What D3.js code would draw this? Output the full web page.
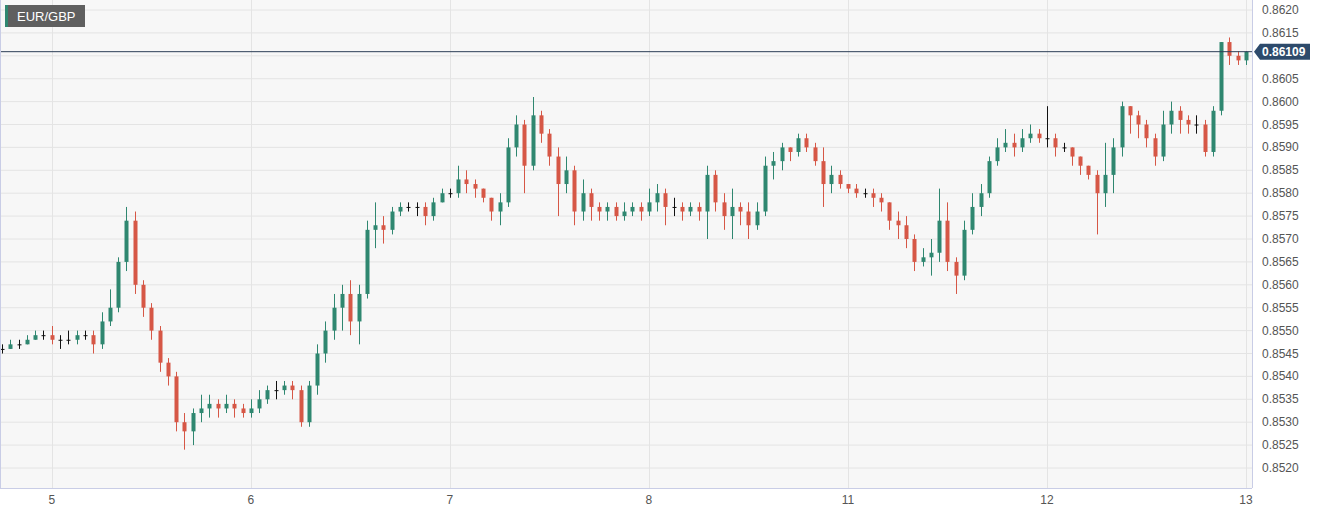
<!DOCTYPE html>
<html><head><meta charset="utf-8">
<script src="https://cdn.jsdelivr.net/npm/d3@7.9.0/dist/d3.min.js"></script>
<style>body{margin:0;background:#fff;font-family:"Liberation Sans",Arial,sans-serif}</style>
</head><body><svg width="1332" height="514"></svg>
<script>
const symbol = 'EUR/GBP';
const lastPrice = 0.86109;
const dayLabels = ['5','6','7','8','11','12','13'];
const dayIndex = [6,30,54,78,102,126,150];
const priceTicks = [0.8520,0.8525,0.8530,0.8535,0.8540,0.8545,0.8550,0.8555,0.8560,0.8565,0.8570,0.8575,0.8580,0.8585,0.8590,0.8595,0.8600,0.8605,0.8610,0.8615,0.8620];
const closes = [.8546,.8547,.8547,.8548,.8549,.8549,
.8548,.8548,.8548,.8549,.8549,.8547,.8552,.8555,.8565,.8574,
.8560,.8555,.8550,.8543,.8540,.8530,.8528,.8532,.8533,.8534,
.8533,.8534,.8533,.8532,.8533,.8535,.8537,.8537,.8538,.8537,
.8530,.8538,.8545,.8550,.8555,.8558,.8552,.8558,.8572,.8573,
.8572,.8576,.8577,.8577,.8577,.8575,.8578,.8580,.8580,.8583,
.8582,.8581,.8579,.8576,.8578,.8590,.8595,.8586,.8597,.8593,
.8588,.8582,.8585,.8576,.8580,.8577,.8576,.8577,.8575,.8576,
.8577,.8576,.8578,.8580,.8577,.8577,.8576,.8577,.8576,.8584,
.8578,.8575,.8577,.8576,.8573,.8576,.8586,.8587,.8590,.8589,
.8592,.8590,.8587,.8582,.8584,.8582,.8581,.8580,.8580,.8579,
.8578,.8574,.8573,.8570,.8565,.8566,.8567,.8574,.8565,.8562,
.8572,.8577,.8580,.8587,.8590,.8591,.8590,.8592,.8593,.8592,
.8592,.8590,.8590,.8588,.8586,.8584,.8580,.8584,.8590,.8599,
.8597,.8595,.8592,.8588,.8595,.8598,.8596,.8595,.8595,.8589,
.8598,.8613,.8610,.8609,.86109];
const highs = [.8547,.8548,.8548,.8549,.8550,.8550,
.8551,.8549,.8550,.8550,.8550,.8550,.8554,.8559,.8566,.8577,
.8576,.8561,.8556,.8551,.8544,.8541,.8532,.8533,.8536,.8536,
.8535,.8536,.8535,.8534,.8535,.8537,.8538,.8539,.8539,.8539,
.8538,.8539,.8547,.8552,.8558,.8560,.8561,.8560,.8574,.8578,
.8575,.8577,.8578,.8578,.8578,.8578,.8579,.8581,.8581,.8586,
.8585,.8583,.8581,.8579,.8580,.8592,.8597,.8596,.8601,.8598,
.8594,.8590,.8588,.8586,.8583,.8581,.8578,.8578,.8578,.8578,
.8578,.8578,.8581,.8582,.8581,.8579,.8578,.8578,.8578,.8586,
.8585,.8580,.8581,.8578,.8578,.8578,.8588,.8589,.8591,.8590,
.8593,.8593,.8591,.8590,.8586,.8585,.8582,.8582,.8581,.8581,
.8580,.8578,.8576,.8575,.8571,.8568,.8570,.8581,.8578,.8566,
.8574,.8580,.8582,.8588,.8592,.8594,.8593,.8594,.8595,.8594,
.8599,.8593,.8591,.8590,.8588,.8586,.8585,.8591,.8592,.8600,
.8599,.8598,.8596,.8593,.8598,.8600,.8599,.8597,.8597,.8596,
.8599,.8613,.8614,.8611,.8611];
const lows = [.8545,.8546,.8546,.8547,.8548,.8548,
.8547,.8546,.8547,.8547,.8548,.8545,.8546,.8551,.8554,.8563,
.8558,.8553,.8548,.8541,.8538,.8528,.8524,.8525,.8530,.8531,
.8531,.8532,.8531,.8531,.8531,.8532,.8534,.8535,.8536,.8535,
.8529,.8529,.8536,.8543,.8548,.8550,.8549,.8547,.8557,.8568,
.8569,.8571,.8575,.8576,.8575,.8573,.8574,.8578,.8579,.8579,
.8580,.8579,.8578,.8574,.8573,.8577,.8588,.8580,.8585,.8591,
.8586,.8575,.8580,.8573,.8574,.8574,.8574,.8574,.8574,.8574,
.8575,.8574,.8575,.8576,.8573,.8575,.8574,.8575,.8574,.8570,
.8576,.8572,.8570,.8573,.8570,.8572,.8575,.8583,.8585,.8587,
.8588,.8589,.8586,.8577,.8580,.8581,.8580,.8579,.8579,.8577,
.8576,.8572,.8570,.8568,.8563,.8564,.8562,.8565,.8563,.8558,
.8561,.8571,.8575,.8579,.8586,.8589,.8588,.8589,.8591,.8591,
.8590,.8588,.8589,.8586,.8584,.8583,.8571,.8577,.8580,.8588,
.8593,.8592,.8590,.8586,.8587,.8593,.8593,.8593,.8593,.8588,
.8588,.8597,.8608,.8608,.8608];

const svg = d3.select('svg');
const W = 1252, H = 488;
const x = d3.scaleLinear().domain([0,150]).range([2,1246]);
const y = d3.scaleLinear().domain([0.8520,0.8620]).range([468,10]);

svg.append('rect').attr('width',W).attr('height',H).attr('fill','#f7f7f7');
// grid
svg.append('g').selectAll('line').data(priceTicks).join('line')
  .attr('x1',0).attr('x2',W).attr('y1',d=>y(d)).attr('y2',d=>y(d))
  .attr('stroke','#e4e4e4').attr('stroke-width',1);
svg.append('g').selectAll('line').data(dayIndex).join('line')
  .attr('x1',d=>Math.round(x(d))+0.5).attr('x2',d=>Math.round(x(d))+0.5).attr('y1',0).attr('y2',H)
  .attr('stroke','#e4e4e4');

// candles
const candles = closes.map((c,i)=>({i, o: i===0 ? c : closes[i-1], c, h: highs[i], l: lows[i]}));
const g = svg.append('g');
const cw = 4;
candles.forEach(d=>{
  const col = d.c > d.o ? '#2f8770' : d.c < d.o ? '#d65746' : '#111';
  const cx = Math.round(x(d.i))+0.5;
  g.append('line').attr('x1',cx).attr('x2',cx).attr('y1',y(d.h)).attr('y2',y(d.l)).attr('stroke',col);
  const top = y(Math.max(d.o,d.c)), bot = y(Math.min(d.o,d.c));
  g.append('rect').attr('x',cx-cw/2).attr('y',top).attr('width',cw).attr('height',Math.max(1,bot-top)).attr('fill',col);
});

// last price line
svg.append('line').attr('x1',0).attr('x2',W).attr('y1',y(lastPrice)).attr('y2',y(lastPrice))
  .attr('stroke','#2c3e56').attr('stroke-width',1);

// frame
svg.append('line').attr('x1',0.5).attr('x2',0.5).attr('y1',0).attr('y2',H).attr('stroke','#c9cde6');
svg.append('line').attr('x1',W+0.5).attr('x2',W+0.5).attr('y1',0).attr('y2',H).attr('stroke','#c9cde6');
svg.append('line').attr('x1',0).attr('x2',W).attr('y1',H+0.5).attr('y2',H+0.5).attr('stroke','#c9cde6');

// y labels (the one under the price tag is hidden)
svg.append('g').selectAll('text').data(priceTicks.filter(d=>Math.abs(y(d)-y(lastPrice))>12)).join('text')
  .attr('x',1262).attr('y',d=>y(d)+4).attr('font-size',12).attr('fill','#555')
  .text(d=>d.toFixed(4));
// price tag
const py = y(lastPrice);
svg.append('path').attr('d',`M1254,${py} L1260,${py-8} L1310,${py-8} L1310,${py+8} L1260,${py+8} Z`).attr('fill','#2d4a6b');
svg.append('text').attr('x',1262).attr('y',py+4.5).attr('font-size',12).attr('font-weight','bold').attr('fill','#fff').text(lastPrice.toFixed(5));

// x labels
svg.append('g').selectAll('text').data(dayIndex).join('text')
  .attr('x',d=>x(d)).attr('y',504).attr('text-anchor','middle').attr('font-size',12).attr('fill','#555')
  .text((d,i)=>dayLabels[i]);

// symbol badge
svg.append('rect').attr('x',5).attr('y',5).attr('width',80).attr('height',22).attr('fill','#5f5f5f');
svg.append('rect').attr('x',5).attr('y',5).attr('width',3).attr('height',22).attr('fill','#2f8770');
svg.append('text').attr('x',17).attr('y',21).attr('font-size',13).attr('fill','#fff').text(symbol);
</script></body></html>
